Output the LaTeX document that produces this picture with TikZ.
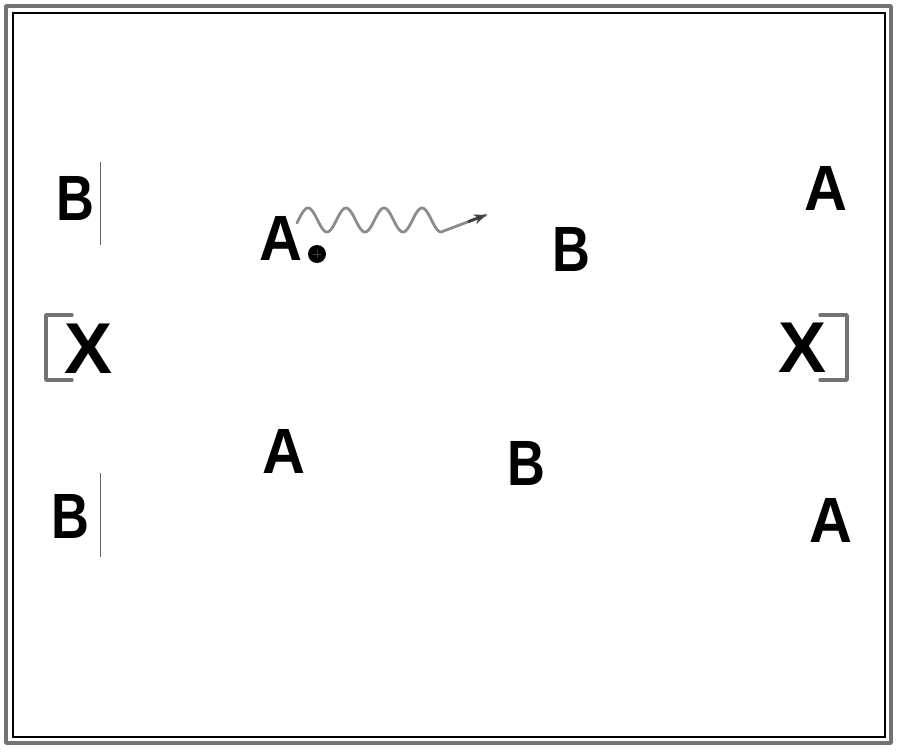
\documentclass[tikz,border=0pt]{standalone}
\usepackage{fontspec}
\usepackage{graphicx}
\setmainfont{Liberation Sans}
\usetikzlibrary{arrows.meta,calc}
\newcommand{\bletter}{\scalebox{0.82}[1]{B}}
\newcommand{\aletter}{\scalebox{0.93}[1]{A}}
\begin{document}
\begin{tikzpicture}[x=1pt,y=-1pt,
  lett/.style={inner sep=0pt,font=\fontsize{64}{64}\bfseries\selectfont},
  xlett/.style={inner sep=0pt,font=\fontsize{72}{72}\bfseries\selectfont},
  brack/.style={draw=black!55,line width=3.5pt,line cap=round,line join=round},
  tick/.style={draw=black!60,line width=0.8pt},
  wave/.style={draw=black!45,line width=2.8pt,line cap=round}]
\useasboundingbox (0,0) rectangle (900,752);
\fill[white] (0,0) rectangle (900,752);
% frames
\draw[draw=black!55,line width=3.5pt,line join=round] (6,6) rectangle (891,743);
\draw[black,line width=1.4pt] (13,13) rectangle (885,737);
% letters
\node[lett] (b1) at (75,198) {\bletter};
\node[xlett] (x1) at (89,349) {X};
\node[lett] (a0) at (281,238) {\aletter};
\node[lett] (b2) at (571,249) {\bletter};
\node[lett] (a1) at (826,188) {\aletter};
\node[xlett] (x2) at (803,348) {X};
\node[lett] (a2) at (284,451) {\aletter};
\node[lett] (b3) at (526,463) {\bletter};
\node[lett] (b4) at (70,516) {\bletter};
\node[lett] (a3) at (831,520) {\aletter};
% charge
\node[circle,fill=black,minimum size=18pt,inner sep=0pt] (chg) at (317,254) {};
\draw[black!75,line width=0.6pt] ($(chg)+(-4,0)$) -- ($(chg)+(4,0)$);
\draw[black!75,line width=0.6pt] ($(chg)+(0,-4)$) -- ($(chg)+(0,4)$);
% brackets
\draw[brack] (72,315) -- (46,315) -- (46,380) -- (72,380);
\draw[brack] (820,315) -- (847,315) -- (847,380) -- (820,380);
% thin ticks
\coordinate (t1a) at (100,162); \coordinate (t1b) at (100,245);
\coordinate (t2a) at (100,473); \coordinate (t2b) at (100,557);
\draw[tick] (t1a) -- (t1b);
\draw[tick] (t2a) -- (t2b);
% wave
\coordinate (wend) at (441,232);
\coordinate (wtip) at (486,215);
\draw[wave] plot[domain=297:441,samples=120,smooth] (\x,{220-12*sin((\x-298.5)*9.47368)}) -- (wtip);
\draw[black!75,line width=2.8pt,-{Stealth[length=12pt,width=10pt]}] ($(wend)!0.6!(wtip)$) -- (wtip);
\end{tikzpicture}
\end{document}
